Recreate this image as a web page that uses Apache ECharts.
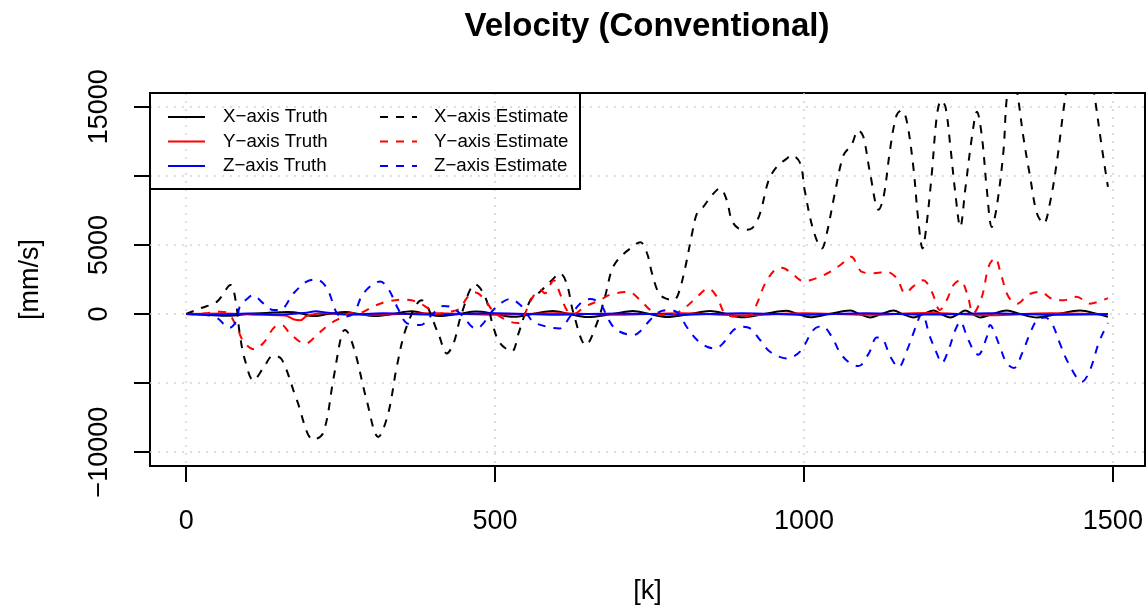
<!DOCTYPE html>
<html>
<head>
<meta charset="utf-8">
<script src="https://cdn.jsdelivr.net/npm/echarts@6/dist/echarts.min.js"></script>
<style>
  html, body { margin: 0; padding: 0; background: #fff; }
  #chart { width: 1148px; height: 607px; }
</style>
</head>
<body>
<div id="chart"></div>
<script>
// tick positions / labels
var xTicks = [0, 500, 1000, 1500];
var yTicks = [-10000, -5000, 0, 5000, 10000, 15000];
var yTickLabels = [-10000, 0, 5000, 15000];

// X-axis estimate (black dashed)
var xEstK = [0, 22, 50, 72, 80, 87, 95, 109, 125, 141, 155, 179, 206, 222, 238, 252, 257, 271, 292, 311, 327, 341, 357, 381, 408, 422, 433, 446, 468, 484, 497, 508, 527, 538, 557, 570, 592, 605, 616, 627, 647, 665, 678, 689, 700, 719, 735, 746, 754, 765, 775, 789, 797, 808, 819, 827, 837, 851, 864, 875, 883, 894, 908, 918, 929, 943, 956, 972, 980, 994, 1001, 1015, 1029, 1037, 1050, 1064, 1077, 1088, 1096, 1107, 1121, 1129, 1140, 1150, 1158, 1166, 1177, 1185, 1192, 1198, 1207, 1215, 1222, 1229, 1237, 1245, 1253, 1261, 1272, 1280, 1288, 1296, 1304, 1312, 1323, 1328, 1337, 1347, 1355, 1366, 1377, 1388, 1398, 1409, 1420, 1424, 1435, 1448, 1460, 1471, 1482, 1492];
var xEstV = [0, 400, 900, 2100, 1000, -1500, -3300, -4800, -3900, -3000, -3300, -6200, -9100, -8600, -4800, -1400, -1150, -2400, -6200, -8900, -7200, -3800, -900, 1000, -1400, -2850, -2100, 50, 2150, 1250, -900, -2100, -2700, -1400, 1000, 1500, 2450, 2950, 2200, 50, -2250, -650, 1250, 3200, 4000, 4750, 5200, 4400, 2950, 1500, 1150, 1000, 1500, 3400, 5850, 7300, 7750, 8600, 9100, 8250, 6800, 6200, 6100, 6300, 7300, 9700, 10650, 11250, 11500, 10900, 9000, 6100, 4750, 5850, 8750, 11500, 12250, 13300, 12850, 10200, 7550, 8500, 12100, 14400, 14750, 14050, 10650, 6800, 4750, 6300, 10200, 14300, 15450, 15000, 12100, 8750, 6300, 9000, 12850, 14650, 12850, 9000, 6300, 7750, 11850, 15500, 18000, 15500, 12850, 9950, 7300, 6550, 8000, 10900, 14750, 16000, 19000, 20000, 18800, 15600, 12100, 9200];

// Y-axis estimate (red dashed)
var yEstK = [0, 30, 55, 68, 82, 93, 110, 125, 144, 155, 168, 193, 212, 230, 249, 263, 283, 303, 325, 352, 373, 392, 405, 427, 443, 455, 468, 484, 495, 505, 524, 538, 546, 560, 573, 581, 589, 595, 605, 616, 627, 646, 670, 686, 716, 735, 751, 767, 789, 810, 827, 845, 859, 872, 891, 913, 924, 937, 953, 964, 980, 994, 1001, 1010, 1026, 1042, 1059, 1076, 1094, 1113, 1134, 1150, 1164, 1177, 1193, 1207, 1220, 1231, 1242, 1253, 1264, 1274, 1288, 1299, 1309, 1320, 1331, 1345, 1363, 1382, 1404, 1420, 1441, 1463, 1477, 1492];
var yEstV = [0, 50, 170, 50, -950, -2000, -2550, -2100, -900, -800, -1400, -2150, -1500, -800, -300, 50, 100, 550, 900, 1050, 900, 400, 0, 170, 400, 1200, 1550, 1000, 300, -100, -550, -650, -200, 1150, 1750, 1500, 2100, 2450, 1500, 300, 0, 550, 1000, 1400, 1600, 1000, 300, -70, 0, 550, 1250, 1850, 1250, 50, -200, -70, 770, 2200, 3200, 3350, 2950, 2450, 2350, 2450, 2700, 3050, 3550, 4150, 3050, 2950, 3050, 2600, 1500, 2000, 2450, 1600, 300, 1000, 2100, 2450, 1500, 50, 1250, 3450, 4050, 2700, 1250, 750, 1400, 1600, 1050, 1000, 1250, 750, 900, 1150];

// Z-axis estimate (blue dashed)
var zEstK = [0, 30, 50, 63, 70, 82, 87, 104, 108, 125, 141, 152, 174, 195, 211, 228, 244, 254, 271, 287, 314, 327, 344, 357, 379, 400, 416, 427, 446, 465, 471, 481, 497, 513, 524, 541, 551, 562, 584, 605, 621, 638, 654, 670, 684, 697, 724, 737, 751, 767, 783, 797, 810, 827, 843, 856, 869, 886, 899, 913, 929, 945, 972, 994, 1015, 1029, 1045, 1059, 1075, 1088, 1105, 1118, 1126, 1140, 1153, 1167, 1177, 1188, 1191, 1204, 1215, 1223, 1234, 1245, 1253, 1264, 1274, 1282, 1296, 1301, 1315, 1328, 1340, 1353, 1366, 1377, 1390, 1401, 1414, 1428, 1450, 1463, 1477, 1489, 1492];
var zEstV = [0, -50, -300, -800, -1000, -450, 550, 1300, 1370, 770, 290, 290, 1500, 2350, 2500, 1850, 50, -200, 50, 1500, 2350, 1850, 290, -650, -800, 50, 580, 530, -70, -1000, -1040, -670, 290, 890, 1090, 650, 50, -560, -920, -1040, -200, 770, 1090, 770, -430, -1160, -1520, -1160, -430, 170, 290, 50, -920, -1880, -2370, -2490, -2120, -1160, -920, -1040, -1880, -2730, -3210, -2700, -1160, -870, -1640, -2850, -3570, -3770, -2850, -1700, -1750, -3100, -3850, -2600, -1400, -100, 0, -1650, -2850, -3550, -2600, -1150, -550, -1650, -2600, -2950, -1650, -800, -2100, -3550, -3900, -2850, -1400, -450, -250, -650, -2100, -3550, -4900, -4050, -2100, -900, -650];

// truth curves (solid), small wiggles around zero
var xTruK = [0, 30, 70, 100, 130, 165, 185, 205, 230, 258, 280, 305, 335, 365, 390, 410, 440, 470, 500, 530, 560, 594, 620, 649, 690, 723, 750, 778, 815, 848, 875, 901, 935, 972, 990, 1010, 1040, 1075, 1090, 1107, 1125, 1145, 1160, 1177, 1193, 1210, 1222, 1237, 1250, 1261, 1273, 1285, 1305, 1328, 1350, 1377, 1410, 1447, 1475, 1492];
var xTruV = [0, -50, -120, 0, 80, 150, 60, -150, 0, 150, 0, -150, 0, 200, 0, -150, 0, 180, 0, -200, 0, 220, 0, -220, 0, 220, 0, -220, 0, 220, 0, -230, 0, 230, 0, -230, 0, 250, 0, -250, 0, 250, 0, -250, 0, 250, 0, -250, 0, 250, 0, -250, 0, 250, 0, -250, 0, 250, 0, -200];
var yTruK = [0, 60, 120, 160, 175, 185, 195, 220, 300, 400, 500, 600, 700, 800, 900, 1000, 1100, 1200, 1300, 1400, 1492];
var yTruV = [0, 40, -60, -100, -400, -450, -150, 60, -60, 50, -50, 60, -50, 60, -80, 60, -60, 80, -80, 60, -40];
var zTruK = [0, 50, 100, 150, 195, 210, 225, 260, 320, 400, 500, 600, 700, 800, 900, 1000, 1100, 1200, 1300, 1400, 1492];
var zTruV = [0, -60, 40, -40, 100, 200, 120, -40, 50, -40, 60, -50, 40, -50, 60, -60, 50, -40, 60, -50, 0];

var names = ['X\u2212axis Truth', 'Y\u2212axis Truth', 'Z\u2212axis Truth',
             'X\u2212axis Estimate', 'Y\u2212axis Estimate', 'Z\u2212axis Estimate'];
var colors = ['#000000', '#ff0000', '#0000ff'];

function zip(k, v) {
  return k.map(function (x, i) { return [x, v[i]]; });
}

var FONT = "'Liberation Sans', Arial, Helvetica, sans-serif";
var chart = echarts.init(document.getElementById('chart'), null, { renderer: 'canvas' });

function lineSeries(name, k, v, color, dashed) {
  return {
    name: name,
    type: 'line',
    data: zip(k, v),
    symbol: 'none',
    showSymbol: false,
    smooth: 0.35,
    clip: true,
    lineStyle: { color: color, width: 2, type: dashed ? [8, 8] : 'solid' },
    itemStyle: { color: color },
    emphasis: { disabled: true }
  };
}

var legendCommon = {
  orient: 'vertical',
  top: 107,
  padding: 0,
  itemWidth: 37,
  itemHeight: 14,
  itemGap: 4.5,
  selectedMode: false,
  itemStyle: { opacity: 0 },
  textStyle: { fontFamily: FONT, fontSize: 18.7, color: '#000', lineHeight: 20 }
};

var option = {
  animation: false,
  backgroundColor: '#fff',
  grid: {
    left: 150, top: 93, right: 3, bottom: 141,
    containLabel: false,
    outerBoundsMode: 'none',
    show: true, borderColor: '#000', borderWidth: 2, backgroundColor: 'transparent'
  },
  legend: [
    Object.assign({}, legendCommon, {
      left: 167, data: names.slice(0, 3),
      textStyle: Object.assign({}, legendCommon.textStyle, { padding: [0, 0, 0, 13] })
    }),
    Object.assign({}, legendCommon, {
      left: 379, data: names.slice(3),
      textStyle: Object.assign({}, legendCommon.textStyle, { padding: [0, 0, 0, 12] })
    })
  ],
  xAxis: {
    type: 'value',
    min: -58.5,
    max: 1552,
    name: '[k]',
    nameLocation: 'middle',
    nameGap: 112,
    nameTextStyle: { fontFamily: FONT, fontSize: 27, color: '#000' },
    axisLine: { show: false, onZero: false },
    axisTick: { show: true, inside: false, length: 16, lineStyle: { color: '#000', width: 2 }, customValues: xTicks },
    axisLabel: {
      fontFamily: FONT, fontSize: 27, color: '#000', margin: 42, customValues: xTicks,
      formatter: function (v) { return String(v); }
    },
    splitLine: { show: true, lineStyle: { color: '#d3d3d3', width: 1.5, type: [2, 6] } }
  },
  yAxis: {
    type: 'value',
    min: -11000,
    max: 16000,
    name: '[mm/s]',
    nameLocation: 'middle',
    nameRotate: 90,
    nameGap: 106,
    nameTextStyle: { fontFamily: FONT, fontSize: 27, color: '#000' },
    axisLine: { show: false, onZero: false },
    axisTick: { show: true, inside: false, length: 16, lineStyle: { color: '#000', width: 2 }, customValues: yTicks },
    axisLabel: {
      fontFamily: FONT, fontSize: 27, color: '#000', margin: 37, rotate: 90,
      customValues: yTickLabels,
      formatter: function (v) { return String(v).replace('-', '\u2212'); }
    },
    splitLine: { show: true, lineStyle: { color: '#d3d3d3', width: 1.5, type: [2, 6] } }
  },
  graphic: [
    {
      type: 'text', x: 647, y: 27, z: 10,
      style: {
        text: 'Velocity (Conventional)', fill: '#000',
        font: 'bold 33px ' + FONT, textAlign: 'center', textVerticalAlign: 'middle'
      }
    },
    {
      type: 'rect', z: 10,
      shape: { x: 150, y: 93, width: 430, height: 96 },
      style: { fill: 'none', stroke: '#000', lineWidth: 2 }
    }
  ],
  series: [
    lineSeries(names[0], xTruK, xTruV, colors[0], false),
    lineSeries(names[1], yTruK, yTruV, colors[1], false),
    lineSeries(names[2], zTruK, zTruV, colors[2], false),
    lineSeries(names[3], xEstK, xEstV, colors[0], true),
    lineSeries(names[4], yEstK, yEstV, colors[1], true),
    lineSeries(names[5], zEstK, zEstV, colors[2], true)
  ]
};

chart.setOption(option);
</script>
</body>
</html>
